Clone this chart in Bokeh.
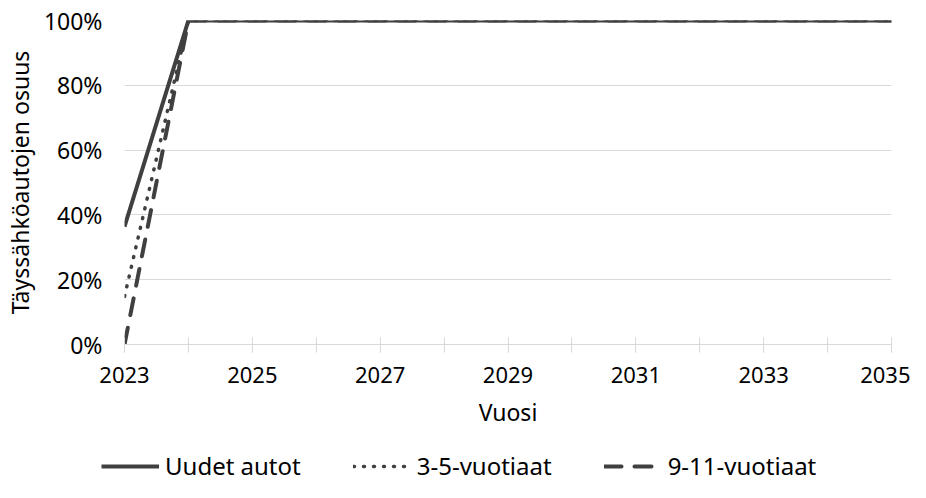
from bokeh.plotting import figure
from bokeh.layouts import column
from bokeh.models import FixedTicker, NumeralTickFormatter, Legend, LegendItem, Range1d
from bokeh.embed import file_html
from bokeh.resources import INLINE

years = [2023, 2024, 2025, 2026, 2027, 2028, 2029, 2030, 2031, 2032, 2033, 2034, 2035]
uudet = [0.364, 1, 1, 1, 1, 1, 1, 1, 1, 1, 1, 1, 1]
v3_5 = [0.148, 1, 1, 1, 1, 1, 1, 1, 1, 1, 1, 1, 1]
v9_11 = [0.0, 1, 1, 1, 1, 1, 1, 1, 1, 1, 1, 1, 1]
labels = ["Uudet autot", "3-5-vuotiaat", "9-11-vuotiaat"]
x_label_years = [2023, 2025, 2027, 2029, 2031, 2033, 2035]
y_ticks = [0, 0.2, 0.4, 0.6, 0.8, 1.0]

FONT = "Noto Sans"
COL = "#404040"
GRID = "#d9d9d9"
W = 910

styles = [dict(line_width=4, line_color=COL),
          dict(line_width=3.5, line_color=COL, line_dash="1 9", line_cap="round"),
          dict(line_width=4, line_color=COL, line_dash="17 13", line_cap="round")]
series = [uudet, v3_5, v9_11]

p = figure(width=W, height=430, output_backend="svg", toolbar_location=None,
           x_range=Range1d(2023, 2035), y_range=Range1d(0, 1),
           min_border_left=117, min_border_right=19, min_border_top=20, min_border_bottom=86)
p.outline_line_color = None

for ys, st in zip(series, styles):
    p.line(years, ys, **st)

p.xaxis.ticker = FixedTicker(ticks=x_label_years, minor_ticks=years)
p.yaxis.ticker = FixedTicker(ticks=y_ticks)
p.yaxis.formatter = NumeralTickFormatter(format="0%")

for ax in (p.xaxis, p.yaxis):
    ax.major_label_text_font = FONT
    ax.major_label_text_font_size = "22px"
    ax.major_label_text_color = "#000000"
    ax.axis_label_text_font = FONT
    ax.axis_label_text_font_style = "normal"
    ax.axis_label_text_color = "#000000"
    ax.axis_label_text_font_size = "23px"

p.xaxis.axis_label = "Vuosi"
p.yaxis.axis_label = "Täyssähköautojen osuus"
p.yaxis.major_label_text_font_size = "23px"

p.xaxis.axis_line_color = GRID
p.xaxis.major_tick_line_color = GRID
p.xaxis.minor_tick_line_color = GRID
p.xaxis.major_tick_in = 7
p.xaxis.major_tick_out = 8
p.xaxis.minor_tick_in = 7
p.xaxis.minor_tick_out = 8
p.xaxis.major_label_standoff = 14
p.xaxis.axis_label_standoff = 10

p.yaxis.axis_line_color = None
p.yaxis.major_tick_line_color = None
p.yaxis.minor_tick_line_color = None
p.yaxis.major_tick_out = 0
p.yaxis.major_tick_in = 0
p.yaxis.major_label_standoff = 22
p.yaxis.axis_label_standoff = 5

p.xgrid.grid_line_color = None
p.ygrid.grid_line_color = GRID
p.ygrid.grid_line_width = 1

# legend row: same series drawn outside the visible ranges, only their legend shows
q = figure(width=W, height=52, output_backend="svg", toolbar_location=None,
           x_range=Range1d(0, 1), y_range=Range1d(0, 1),
           min_border_left=0, min_border_right=0, min_border_top=0, min_border_bottom=0)
legend_x = 101
try:
    q.frame_align = False
except Exception:
    q.min_border_left = 117
    q.min_border_right = 19
    legend_x = 0
q.axis.visible = False
q.grid.visible = False
q.outline_line_color = None
rs = [q.line(years, ys, **st) for ys, st in zip(series, styles)]

legend = Legend(items=[LegendItem(label=lab, renderers=[r]) for lab, r in zip(labels, rs)],
                orientation="horizontal", location=(legend_x, 0),
                label_text_font=FONT, label_text_font_size="24px", label_text_color="#000000",
                glyph_width=58, glyph_height=20, label_standoff=6, spacing=52,
                border_line_color=None, background_fill_alpha=0, margin=0, padding=0)
q.add_layout(legend, "center")

layout = column(p, q, spacing=0)
open("out.html", "w").write(file_html(layout, INLINE))
